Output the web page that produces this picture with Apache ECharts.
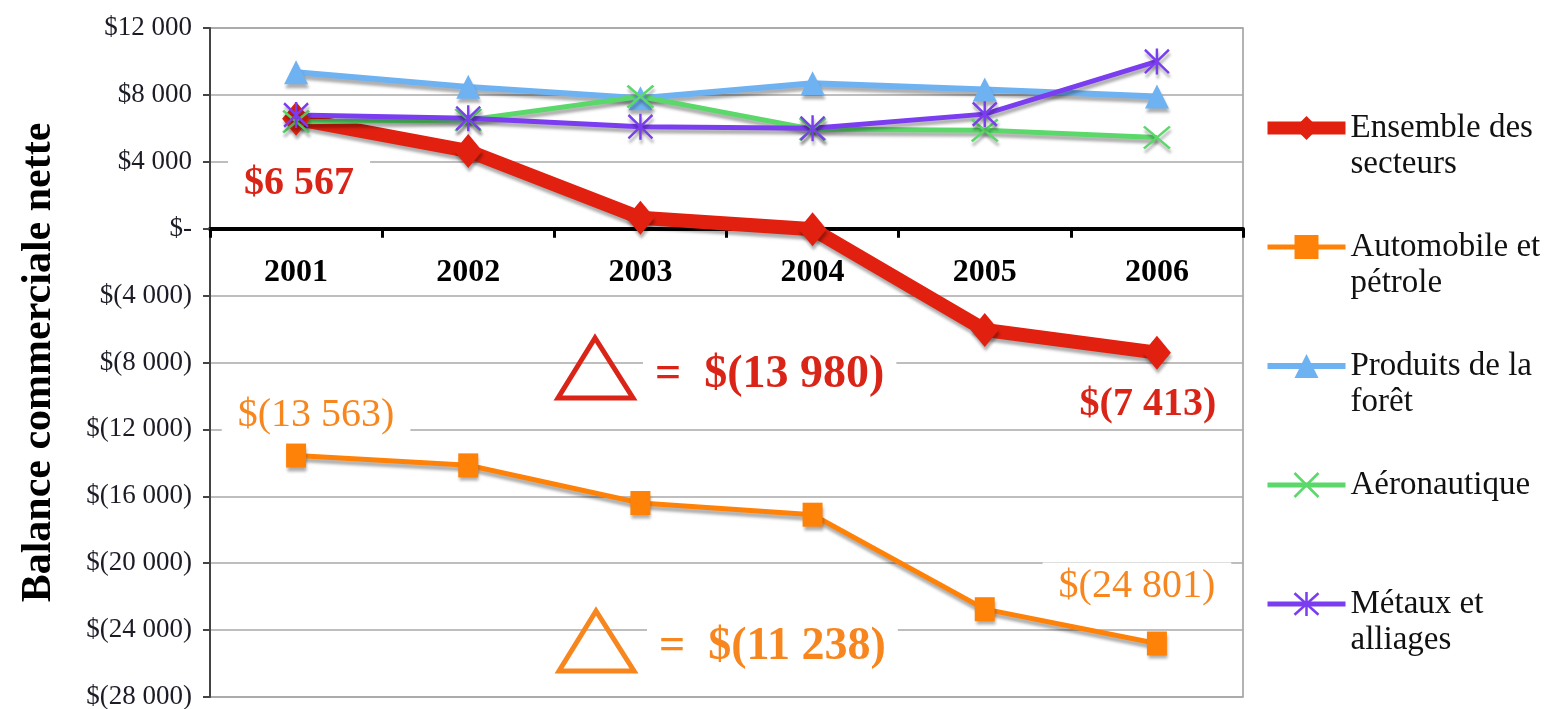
<!DOCTYPE html>
<html><head><meta charset="utf-8">
<script src="https://cdn.jsdelivr.net/npm/echarts@6/dist/echarts.min.js"></script>
<style>html,body{margin:0;padding:0;background:#fff}#c{width:1558px;height:709px}</style>
</head><body><div id="c"></div>
<script>
// ---- data ----
const years = ['2001', '2002', '2003', '2004', '2005', '2006'];
const ensemble = [6567, 4650, 650, -30, -6050, -7413];
const automobile = [-13563, -14150, -16400, -17100, -22750, -24801];
const produits = [9350, 8480, 7800, 8700, 8330, 7900];
const aeronautique = [6400, 6500, 7900, 5950, 5880, 5450];
const metaux = [6800, 6600, 6100, 6000, 6850, 10000];
const seriesNames = ['Ensemble des secteurs', 'Automobile et pétrole', 'Produits de la forêt', 'Aéronautique', 'Métaux et alliages'];
const legendText = ['Ensemble des\nsecteurs', 'Automobile et\npétrole', 'Produits de la\nforêt', 'Aéronautique\n ', 'Métaux et\nalliages'];
const yTicks = { min: -28000, max: 12000, step: 4000 };

// ---- helpers ----
const FF = 'Liberation Serif';
function grp(n) { return String(Math.round(Math.abs(n))).replace(/\B(?=(\d{3})+(?!\d))/g, ' '); }
function money(v) { if (v === 0) return '$-'; return v < 0 ? '$(' + grp(v) + ')' : '$' + grp(v); }

const RED = '#E1200F', ORANGE = '#FF8208', BLUE = '#6FB2F2', GREEN = '#5CD86A', PURPLE = '#7A3DF0';
const RED_T = '#DA2417', ORANGE_T = '#F7861E';
const shadow = { shadowColor: 'rgba(0,0,0,0.32)', shadowBlur: 3, shadowOffsetX: 1, shadowOffsetY: 4 };

function withLabels(values, labelOpts) {
  return values.map((v, i) => labelOpts[i] ? { value: v, label: Object.assign({ show: true, position: 'inside', formatter: p => money(p.value) }, labelOpts[i]) } : v);
}
const redLbl = { color: RED_T, fontFamily: FF, fontWeight: 'bold', fontSize: 40, backgroundColor: '#fff', padding: [4, 16, 4, 16] };
const orLbl = { color: ORANGE_T, fontFamily: FF, fontSize: 40, backgroundColor: '#fff', padding: [4, 16, 4, 16] };

function mkSeries(name, data, color, width, symbol, size, itemExtra) {
  return {
    name, type: 'line', data, symbol, symbolSize: size, showSymbol: true,
    lineStyle: Object.assign({ color, width, join: 'miter' }, shadow),
    itemStyle: Object.assign({ color, borderColor: color, borderWidth: 0 }, shadow, itemExtra || {}),
    emphasis: { disabled: true }, animation: false
  };
}

const XSYM = 'path://M0,0L20,16M20,0L0,16';
const STAR = 'path://M1,1L19,19M19,1L1,19M10,0L10,20';

const dEns = ensemble[ensemble.length - 1] - ensemble[0];
const dAuto = automobile[automobile.length - 1] - automobile[0];

// grid geometry; x axis sits at value 0
const G = { left: 210, right: 315, top: 28, bottom: 12 };
const plotH = 709 - G.top - G.bottom;
const zeroFromBottom = plotH * (0 - yTicks.min) / (yTicks.max - yTicks.min);

const chart = echarts.init(document.getElementById('c'), null, { renderer: 'canvas' });
chart.setOption({
  animation: false,
  backgroundColor: '#fff',
  grid: { left: G.left, right: G.right, top: G.top, bottom: G.bottom, outerBoundsMode: 'none', containLabel: false, show: true, borderColor: '#9a9a9a', borderWidth: 1.5 },
  xAxis: {
    type: 'category', data: years, boundaryGap: true, position: 'bottom', offset: -zeroFromBottom,
    axisLine: { onZero: false, lineStyle: { color: '#000', width: 4 } },
    axisTick: { show: true, length: 9, lineStyle: { color: '#000', width: 3 } },
    axisLabel: { fontFamily: FF, fontWeight: 'bold', fontSize: 32, color: '#000', margin: 28 },
    splitLine: { show: false }
  },
  yAxis: {
    type: 'value', min: yTicks.min, max: yTicks.max, interval: yTicks.step,
    axisLine: { show: true, lineStyle: { color: '#444', width: 2 } },
    axisTick: { show: true, length: 7, lineStyle: { color: '#444', width: 2 } },
    axisLabel: { formatter: v => money(v), fontFamily: FF, fontSize: 27, color: '#1c1c26', margin: 18 },
    splitLine: { show: true, lineStyle: { color: '#a8a8a8', width: 1.5 } },
    name: 'Balance commerciale nette', nameLocation: 'middle', nameGap: 150,
    nameTextStyle: { fontFamily: FF, fontWeight: 'bold', fontSize: 42, color: '#000' }
  },
  legend: {
    orient: 'vertical', left: 1261, top: 74, padding: 0, itemGap: 11,
    itemWidth: 78, itemHeight: 30, selectedMode: false,
    textStyle: { fontFamily: FF, fontSize: 33, lineHeight: 36, color: '#111' },
    formatter: n => '\n' + legendText[seriesNames.indexOf(n)],
    data: [
      { name: seriesNames[0], lineStyle: { width: 13 } },
      { name: seriesNames[1], lineStyle: { width: 5 } },
      { name: seriesNames[2], lineStyle: { width: 6 } },
      { name: seriesNames[3], lineStyle: { width: 5 }, itemStyle: { borderWidth: 2.5, borderColor: GREEN } },
      { name: seriesNames[4], lineStyle: { width: 5 }, itemStyle: { borderWidth: 2.5, borderColor: PURPLE } }
    ]
  },
  series: [
    mkSeries(seriesNames[0], withLabels(ensemble, {
      0: Object.assign({ offset: [3, 65] }, redLbl),
      5: Object.assign({ offset: [-9, 52] }, redLbl)
    }), RED, 14, 'diamond', [28, 34]),
    mkSeries(seriesNames[1], withLabels(automobile, {
      0: Object.assign({ offset: [20, -40] }, orLbl),
      5: Object.assign({ offset: [-20, -57] }, orLbl)
    }), ORANGE, 5, 'rect', [20, 24]),
    mkSeries(seriesNames[2], produits, BLUE, 6, 'triangle', [24, 24]),
    mkSeries(seriesNames[3], aeronautique, GREEN, 5, XSYM, [26, 22], { borderWidth: 2.5 }),
    mkSeries(seriesNames[4], metaux, PURPLE, 5, STAR, [24, 26], { borderWidth: 2.5 })
  ],
  graphic: [
    { type: 'polygon', z: 20, shape: { points: [[595, 338], [558, 398], [633, 398]] }, style: { fill: 'transparent', stroke: RED_T, lineWidth: 5 } },
    { type: 'text', z: 20, x: 643, y: 375, style: { text: '=  ' + money(dEns), fontFamily: FF, fontWeight: 'bold', fontSize: 46, fill: RED_T, verticalAlign: 'middle', backgroundColor: '#fff', padding: [2, 12, 2, 12] } },
    { type: 'polygon', z: 20, shape: { points: [[596, 611], [559, 671], [634, 671]] }, style: { fill: 'transparent', stroke: ORANGE_T, lineWidth: 5 } },
    { type: 'text', z: 20, x: 647, y: 647, style: { text: '=  ' + money(dAuto), fontFamily: FF, fontWeight: 'bold', fontSize: 46, fill: ORANGE_T, verticalAlign: 'middle', backgroundColor: '#fff', padding: [2, 12, 2, 12] } }
  ]
});
</script></body></html>
